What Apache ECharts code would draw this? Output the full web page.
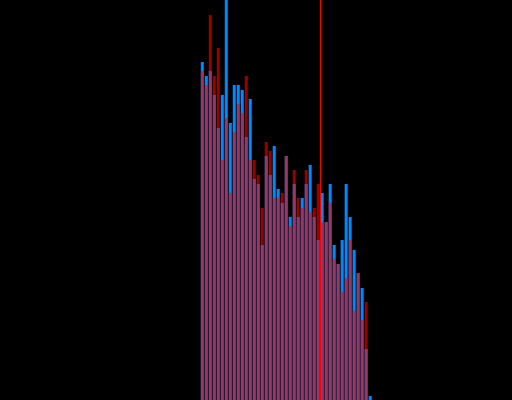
<!DOCTYPE html>
<html>
<head>
<meta charset="utf-8">
<script src="https://cdn.jsdelivr.net/npm/echarts@6/dist/echarts.min.js"></script>
<style>
html,body{margin:0;padding:0;background:#000;}
#c{width:512px;height:400px;}
</style>
</head>
<body>
<div id="c"></div>
<script>
// Values (pixel heights on a 0..400 scale)
const blueValues = [338, 324, 329, 305, 272, 305, 400, 277, 315, 315, 310, 263, 301, 221, 216, 155, 244, 225, 254, 211, 197, 244, 183, 216, 183, 202, 216, 235, 183, 160, 207, 178, 216, 155, 136, 160, 216, 183, 150, 127, 112, 51, 4];
const redValues = [329, 315, 385, 324, 352, 240, 282, 207, 268, 296, 287, 324, 240, 240, 225, 192, 258, 249, 202, 202, 207, 244, 174, 230, 202, 192, 230, 188, 192, 216, 178, 178, 197, 141, 136, 108, 122, 160, 89, 127, 80, 98, 0];
const firstBin = 50;
const markerValue = 80;
const axisMin = 0, axisMax = 128, valueMax = 400;

const xs = blueValues.map((_, i) => firstBin + i + 0.5);
const blueData = blueValues.map((v, i) => [xs[i], v]);
const redData = redValues.map((v, i) => [xs[i], v]);

const chart = echarts.init(document.getElementById('c'), null, {renderer: 'canvas'});
chart.setOption({
  animation: false,
  backgroundColor: '#000000',
  grid: {left: 0.5, top: 0, width: 512, height: 400, containLabel: false},
  xAxis: {type: 'value', min: axisMin, max: axisMax, show: false, splitLine: {show: false}},
  yAxis: {type: 'value', min: 0, max: valueMax, show: false, splitLine: {show: false}},
  series: [
    {
      type: 'bar', data: blueData, barWidth: 3, barGap: '-100%',
      itemStyle: {color: '#0088ff'}, clip: true
    },
    {
      type: 'bar', data: redData, barWidth: 3, barGap: '-100%',
      itemStyle: {color: 'rgba(255,0,0,0.6)'}, clip: true,
      markLine: {
        silent: true, symbol: 'none', label: {show: false},
        lineStyle: {color: '#ff0000', width: 1, type: 'solid'},
        data: [{xAxis: markerValue}]
      }
    }
  ]
});
</script>
</body>
</html>
